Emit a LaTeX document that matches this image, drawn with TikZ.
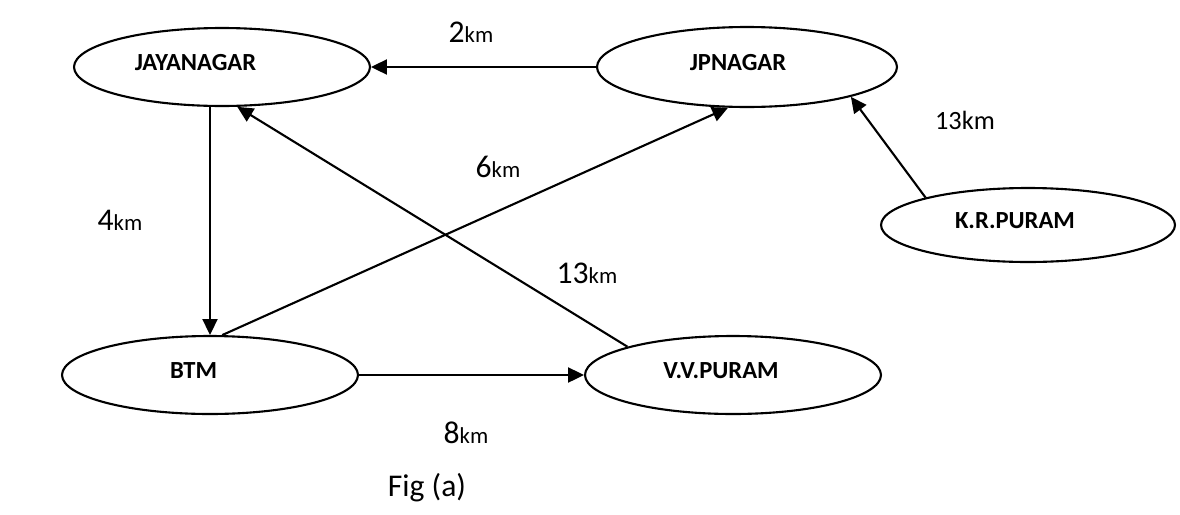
\documentclass[tikz,border=0pt]{standalone}
\usepackage{fontspec}
\setmainfont{Carlito}
\usetikzlibrary{arrows.meta, shapes.geometric}

\newcommand{\dist}[1]{{\fontsize{18}{21}\selectfont #1}{\fontsize{13}{15}\selectfont km}}

\begin{document}
\begin{tikzpicture}[x=0.02cm, y=-0.02cm,
  place/.style={draw, ellipse, line width=1.2pt, minimum width=5.92cm, minimum height=1.56cm, inner sep=0pt},
  tag/.style={font=\fontsize{14}{16}\selectfont\bfseries, yshift=0.08cm},
  road/.style={-{Triangle[length=9pt, width=8.5pt]}, line width=1.2pt},
  dst/.style={inner sep=0pt}]
\useasboundingbox (0,0) rectangle (1180,514);

%places
\node[place, label={[tag, xshift=-0.53cm]center:JAYANAGAR}] (jay) at (222,67) {};
\node[place, minimum width=6cm, minimum height=1.6cm, label={[tag, xshift=-0.18cm]center:JPNAGAR}] (jp) at (747,67) {};
\node[place, minimum width=5.88cm, minimum height=1.48cm, label={[tag, xshift=-0.26cm]center:K.R.PURAM}] (kr) at (1028,225) {};
\node[place, label={[tag, xshift=-0.33cm]center:BTM}] (btm) at (210,375) {};
\node[place, label={[tag, xshift=-0.24cm]center:V.V.PURAM}] (vv) at (733,375) {};

%roads
\draw[road] (jp.west) -- (jay.east);
\draw[road] (btm.north |- jay.south) -- (btm.north);
\draw[road] (btm.73) -- (jp.245);
\draw[road] (vv.165) -- (jay.291);
\draw[road] (btm.east) -- (vv.west);
\draw[road] (kr.165) -- (jp.344);

%distances
\node[dst] (d2) at (471,32) {\dist{2}};
\node[dst] (d4) at (120,220) {\dist{4}};
\node[dst] (d6) at (498,167) {\dist{6}};
\node[dst] (d13) at (587,273) {\dist{13}};
\node[dst] (d8) at (466,433) {\dist{8}};
\node[dst, font=\fontsize{15}{18}\selectfont] (d13kr) at (965,120) {13km};

\node[font=\fontsize{18}{21}\selectfont] (cap) at (427,488) {Fig (a)};

\end{tikzpicture}
\end{document}
